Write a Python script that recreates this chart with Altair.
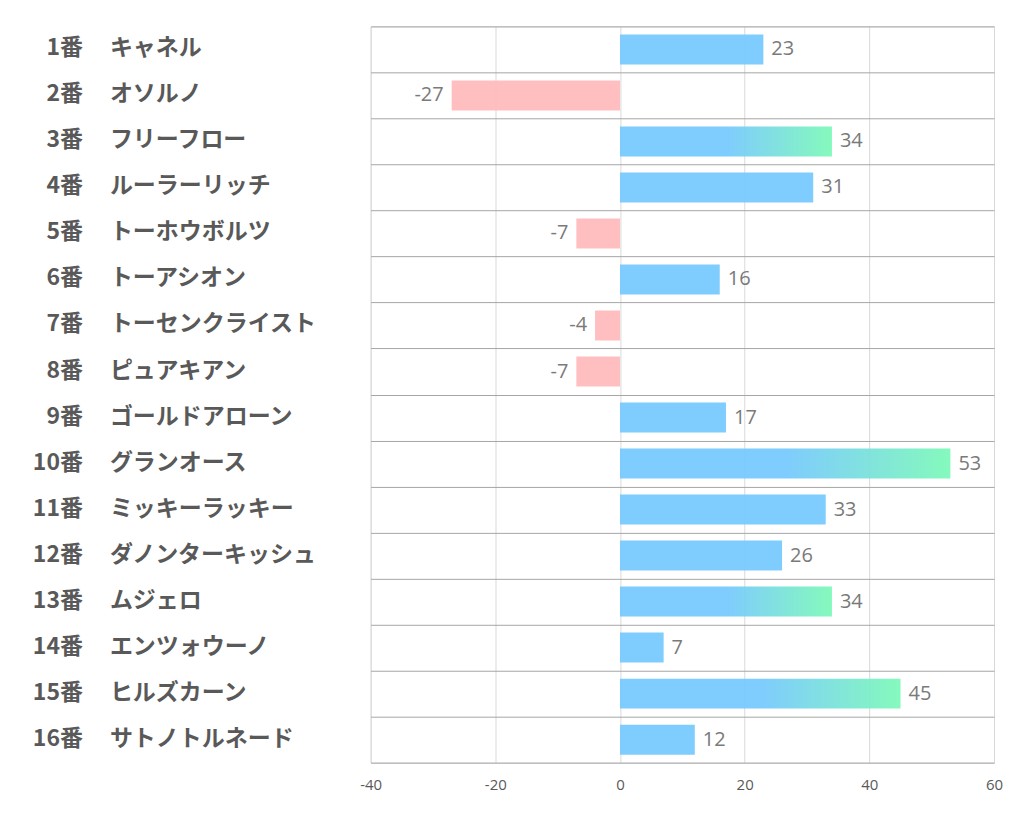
import altair as alt
import pandas as pd

nums = ["1番", "2番", "3番", "4番", "5番", "6番", "7番", "8番",
        "9番", "10番", "11番", "12番", "13番", "14番", "15番", "16番"]
names = ["キャネル", "オソルノ", "フリーフロー", "ルーラーリッチ", "トーホウボルツ",
         "トーアシオン", "トーセンクライスト", "ピュアキアン", "ゴールドアローン",
         "グランオース", "ミッキーラッキー", "ダノンターキッシュ", "ムジェロ",
         "エンツォウーノ", "ヒルズカーン", "サトノトルネード"]
values = [23, -27, 34, 31, -7, 16, -4, -7, 17, 53, 33, 26, 34, 7, 45, 12]
x_ticks = [-40, -20, 0, 20, 40, 60]

df = pd.DataFrame({"num": nums, "name": names, "value": values})
df["label"] = [str(v) for v in values]

BLUE = "#78C9FE"
PINK = "#FFBBBD"
GREEN = "#7EF9B9"
LABEL_FONT = "Noto Sans CJK JP"
NUM_FONT = "Open Sans"

y_enc = alt.Y("num:N", sort=nums, title=None,
              scale=alt.Scale(paddingInner=0, paddingOuter=0),
              axis=alt.Axis(labels=False, ticks=False, domain=False, grid=True,
                            gridColor="#A6A6A6", gridWidth=1, tickBand="extent"))
x_enc = alt.X("value:Q", title=None,
              scale=alt.Scale(domain=[-40, 60], nice=False, zero=False),
              axis=alt.Axis(values=x_ticks, grid=True, gridColor="#D9D9D9",
                            domain=False, ticks=False, labelFontSize=15,
                            labelColor="#595959", labelFont=NUM_FONT,
                            labelFlush=False, labelOverlap=False,
                            labelPadding=15, labelExpr="datum.value + ''"))

base = alt.Chart(df)

bars = base.transform_filter("datum.value < 34").mark_bar(opacity=0.95, size=30).encode(
    y=y_enc, x=x_enc, x2=alt.datum(0),
    color=alt.condition("datum.value < 0", alt.value(PINK), alt.value(BLUE)),
)

grad_bars = base.transform_filter("datum.value >= 34").mark_bar(
    opacity=0.95, size=30,
    color=alt.Gradient(
        gradient="linear",
        stops=[alt.GradientStop(offset=0, color=BLUE),
               alt.GradientStop(offset=0.5, color=BLUE),
               alt.GradientStop(offset=1, color=GREEN)],
        x1=0, x2=1, y1=0, y2=0),
).encode(y=alt.Y("num:N", sort=nums), x=alt.X("value:Q"), x2=alt.datum(0))

pos_labels = base.transform_filter("datum.value >= 0").mark_text(
    align="left", baseline="middle", dx=8, fontSize=20, font=NUM_FONT,
    color="#7A7A7A").encode(y=alt.Y("num:N", sort=nums), x=alt.X("value:Q"),
                            text=alt.Text("label:N"))
neg_labels = base.transform_filter("datum.value < 0").mark_text(
    align="right", baseline="middle", dx=-8, fontSize=20, font=NUM_FONT,
    color="#7A7A7A").encode(y=alt.Y("num:N", sort=nums), x=alt.X("value:Q"),
                            text=alt.Text("label:N"))

num_text = base.mark_text(
    align="right", baseline="middle", fontSize=23, fontWeight="bold",
    font=LABEL_FONT, color="#595959", dy=-1).encode(
    y=alt.Y("num:N", sort=nums), x=alt.value(-288), text="num:N")
name_text = base.mark_text(
    align="left", baseline="middle", fontSize=23, fontWeight="bold",
    font=LABEL_FONT, color="#595959", dy=-1).encode(
    y=alt.Y("num:N", sort=nums), x=alt.value(-261), text="name:N")

chart = alt.layer(bars, grad_bars, pos_labels, neg_labels, num_text, name_text).properties(
    width=624, height=737,
    autosize=alt.AutoSizeParams(type="none"),
    padding={"left": 363, "top": 18, "right": 20, "bottom": 50},
).configure_view(stroke=None).configure(background="white")

chart.save("out.html", embed_options={"renderer": "svg", "actions": False})
